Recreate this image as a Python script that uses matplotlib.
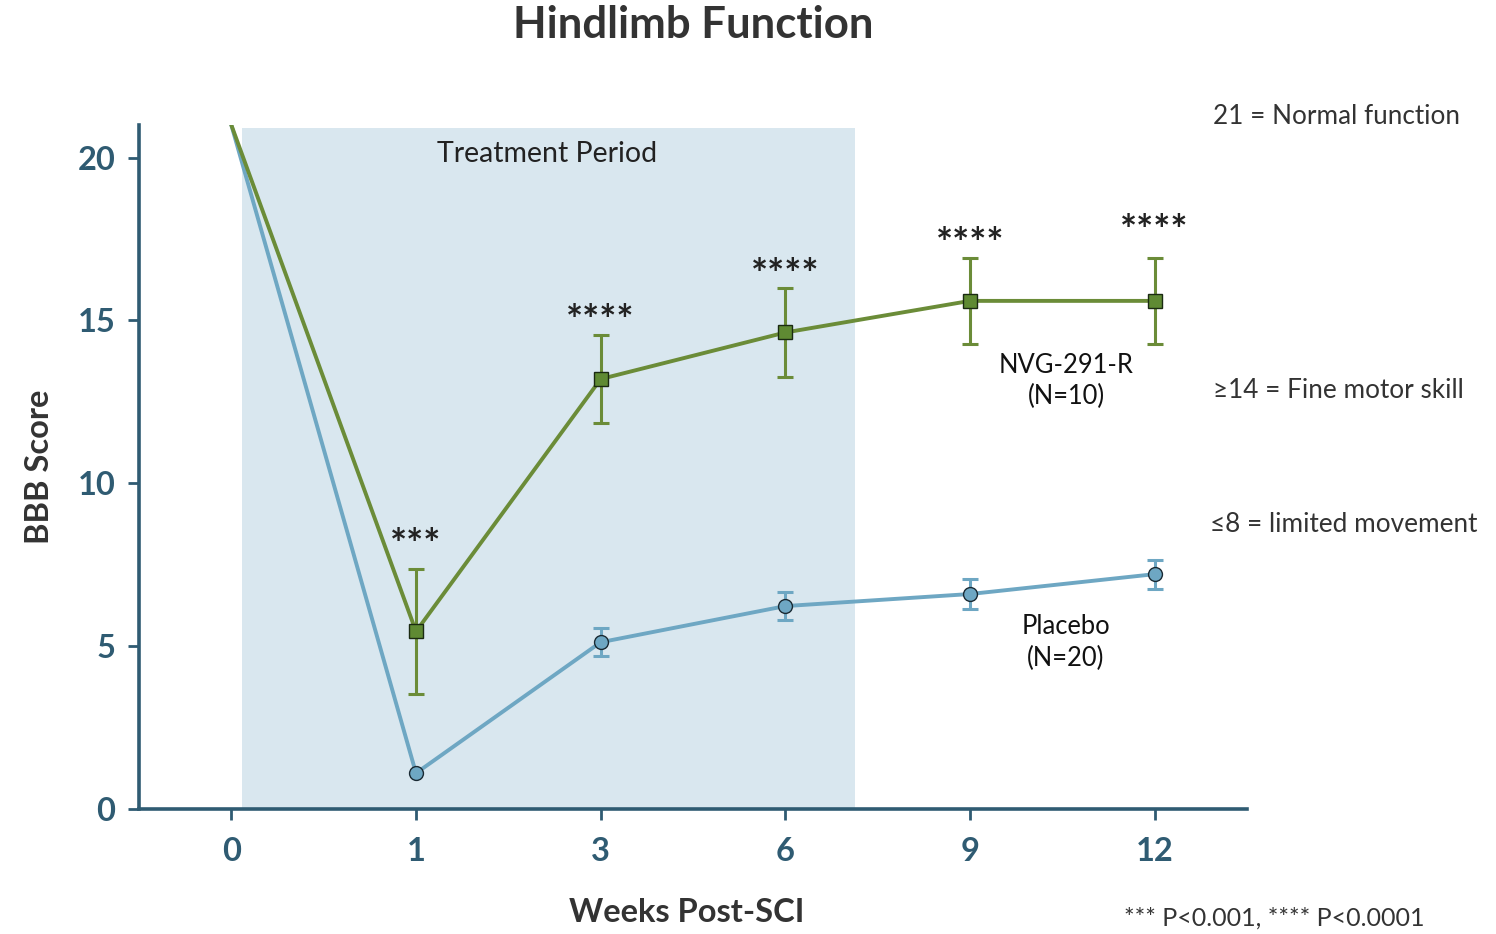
import matplotlib
matplotlib.use("Agg")
import matplotlib.pyplot as plt

plt.rcParams['font.family'] = ['Lato', 'DejaVu Sans']

weeks = ["0", "1", "3", "6", "9", "12"]
nvg_mean = [21, 5.45, 13.2, 14.63, 15.6, 15.6]
nvg_err = [0, 1.92, 1.35, 1.37, 1.32, 1.32]
placebo_mean = [21, 1.1, 5.12, 6.23, 6.6, 7.21]
placebo_err = [0, 0, 0.43, 0.42, 0.45, 0.45]
stars = ["", "***", "****", "****", "****", "****"]
star_y = [0, 8.05, 14.95, 16.35, 17.3, 17.7]

green = "#6b8c38"
green_face = "#5f8a33"
blue = "#6ea7c3"
teal = "#2f5b72"
shade = "#d9e7ef"

W, H = 1496, 934
fig = plt.figure(figsize=(W / 100, H / 100), dpi=100)
ax = fig.add_axes([139 / W, 1 - 809 / H, (1247 - 139) / W, (809 - 125) / H])

x = list(range(len(weeks)))

# treatment window shading
ax.fill_between([0.06, 3.375], 0, 20.9, color=shade, lw=0, zorder=0)
ax.text(1.71, 20.1, "Treatment Period", ha="center", va="center",
        fontsize=20.5, color="#222222")

# placebo group
ax.plot(x, placebo_mean, color=blue, lw=2.8, zorder=2)
ax.errorbar(x[2:], placebo_mean[2:], yerr=placebo_err[2:], fmt="none",
            ecolor=blue, elinewidth=2.2, capsize=6, capthick=2.2, zorder=2)
ax.plot(x[1:], placebo_mean[1:], "o", ms=10, mfc=blue, mec="#1a2a33",
        mew=1.0, zorder=4)

# NVG-291-R group
ax.plot(x, nvg_mean, color=green, lw=2.8, zorder=3)
ax.errorbar(x[1:], nvg_mean[1:], yerr=nvg_err[1:], fmt="none",
            ecolor=green, elinewidth=2.2, capsize=6, capthick=2.2, zorder=3)
ax.plot(x[1:], nvg_mean[1:], "s", ms=10.5, mfc=green_face, mec="#1a2a12",
        mew=1.0, zorder=5)

for xi, s, sy in zip(x, stars, star_y):
    if s:
        ax.text(xi, sy, s, ha="center", va="center", fontsize=29,
                fontweight="bold", color="#222222")

ax.text(4.52, 13.15, "NVG-291-R\n(N=10)", ha="center", va="center",
        fontsize=18.4, color="#111111", linespacing=1.3)
ax.text(4.52, 5.1, "Placebo\n(N=20)", ha="center", va="center",
        fontsize=18.4, color="#111111", linespacing=1.35)

ax.set_xlim(-0.5, 5.5)
ax.set_ylim(0, 21)
ax.set_xticks(x)
ax.set_xticklabels(weeks)
ax.set_yticks([0, 5, 10, 15, 20])

for side in ("top", "right"):
    ax.spines[side].set_visible(False)
for side in ("left", "bottom"):
    ax.spines[side].set_color(teal)
    ax.spines[side].set_linewidth(2.6)

ax.tick_params(axis="both", colors=teal, width=2, length=8, direction="out")
ax.tick_params(axis="x", pad=12)
ax.tick_params(axis="y", pad=9)
for lab in ax.get_xticklabels() + ax.get_yticklabels():
    lab.set_fontsize(23.5)
    lab.set_fontweight("bold")
    lab.set_color(teal)

ax.set_xlabel("Weeks Post-SCI", fontsize=23.5, fontweight="bold",
              color="#333333", labelpad=23)
ax.xaxis.label.set_x(0.4946)
ax.set_ylabel("BBB Score", fontsize=23.5, fontweight="bold",
              color="#333333", labelpad=17)

fig.text(693 / W, 1 - 25 / H, "Hindlimb Function", ha="center", va="center",
         fontsize=31.5, fontweight="bold", color="#333333")

side_notes = [
    (1213, 116, "21 = Normal function"),
    (1213, 390, "≥14 = Fine motor skill"),
    (1210, 525, "≤8 = limited movement"),
]
for px, py, s in side_notes:
    fig.text(px / W, 1 - py / H, s, ha="left", va="center",
             fontsize=18.8, color="#333333")

fig.text(1124 / W, 1 - 918 / H, "*** P<0.001, **** P<0.0001", ha="left",
         va="center", fontsize=18, color="#333333")

fig.savefig("out.png", dpi=100, facecolor="white")
